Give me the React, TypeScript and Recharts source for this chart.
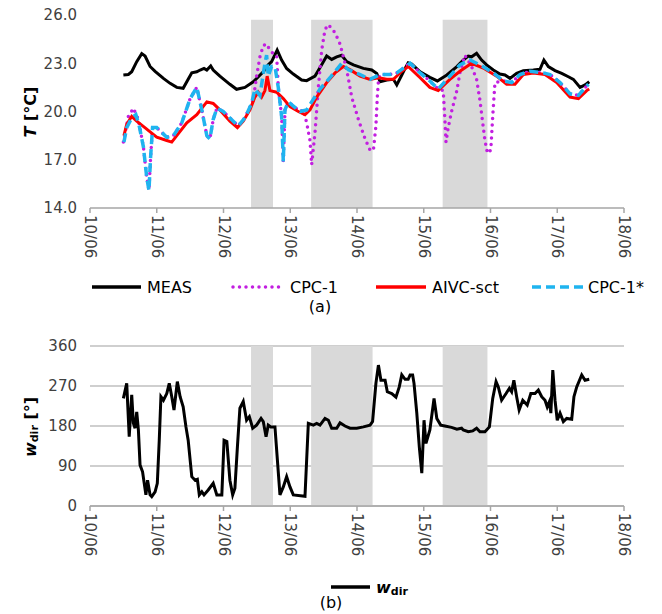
import { LineChart, Line, XAxis, YAxis, CartesianGrid, ReferenceArea } from "recharts";

const FONT = "'DejaVu Sans', sans-serif";
const AXIS_GREY = "#a6a6a6";
const GRID_GREY = "#bfbfbf";
const SHADE = "#d9d9d9";
const TEXT = "#404040";

// x axis: hours since 10/06 00:00
const dayTicks = [0, 24, 48, 72, 96, 120, 144, 168, 192];
const dayLabels = ["10/06", "11/06", "12/06", "13/06", "14/06", "15/06", "16/06", "17/06", "18/06"];

// shaded periods (hours)
const shadeStart = [57.9, 79.5, 126.8];
const shadeEnd = [65.8, 101.6, 142.9];

const tempTicks = [14, 17, 20, 23, 26];
const dirTicks = [0, 90, 180, 270, 360];

// MEAS
const measHours = [12.0, 13.8, 15.0, 16.8, 18.6, 19.8, 21.6, 23.4, 26.4, 28.8, 31.2, 33.5, 35.3, 36.6, 38.4, 39.6, 41.0, 42.0, 43.4, 44.3, 46.7, 50.3, 52.7, 55.7, 58.7, 62.3, 64.1, 65.3, 67.3, 68.9, 70.7, 73.1, 76.1, 77.9, 80.9, 83.3, 85.1, 86.9, 88.7, 90.5, 92.3, 94.7, 98.3, 101.3, 103.1, 104.3, 106.7, 109.1, 110.3, 112.1, 113.3, 114.4, 115.7, 118.7, 122.2, 124.9, 128.3, 131.9, 134.2, 136.0, 137.2, 139.0, 140.8, 142.6, 145.0, 147.4, 149.2, 151.0, 153.4, 155.8, 159.4, 161.8, 163.2, 164.8, 167.2, 169.6, 172.0, 173.8, 176.2, 178.0, 179.5];
const measTemp = [22.27, 22.3, 22.47, 23.1, 23.6, 23.45, 22.8, 22.5, 22.06, 21.75, 21.5, 21.44, 22.0, 22.41, 22.47, 22.58, 22.68, 22.58, 22.83, 22.58, 22.2, 21.69, 21.38, 21.5, 21.85, 22.47, 22.9, 23.1, 23.82, 23.2, 22.68, 22.33, 21.96, 21.92, 22.2, 22.9, 23.45, 23.24, 23.4, 23.5, 23.1, 22.9, 22.68, 22.58, 22.37, 21.85, 21.96, 22.0, 21.65, 22.27, 22.68, 23.03, 22.95, 22.47, 22.12, 21.9, 22.27, 22.79, 23.2, 23.45, 23.4, 23.62, 23.2, 22.9, 22.58, 22.33, 22.27, 22.06, 22.37, 22.54, 22.58, 22.62, 23.2, 22.79, 22.54, 22.37, 22.16, 22.0, 21.5, 21.65, 21.85];

// CPC-1
const cpc1Hours = [12.0, 13.8, 15.6, 17.4, 19.2, 20.4, 21.2, 21.8, 22.5, 24.0, 27.6, 30.0, 33.0, 36.0, 38.4, 40.2, 42.0, 43.1, 44.3, 45.6, 47.9, 51.5, 53.3, 55.7, 58.1, 58.7, 59.9, 61.1, 62.3, 63.5, 64.7, 65.9, 67.1, 67.7, 68.9, 69.5, 70.1, 71.3, 75.5, 76.7, 77.9, 79.1, 79.7, 80.9, 82.1, 83.3, 84.5, 85.7, 88.1, 89.9, 92.3, 94.1, 96.5, 98.9, 100.7, 101.9, 102.8, 103.3, 103.7, 104.3, 107.9, 110.3, 112.7, 115.1, 118.7, 122.2, 125.2, 127.0, 127.6, 128.0, 128.8, 130.0, 131.9, 133.0, 134.8, 137.2, 139.0, 140.2, 141.2, 142.0, 142.9, 144.1, 144.8, 145.6, 148.6, 151.6, 154.6, 158.2, 163.0, 165.4, 169.0, 172.6, 175.6, 179.2];
const cpc1Temp = [18.1, 19.7, 20.2, 19.5, 17.8, 15.9, 15.1, 17.2, 19.0, 19.0, 18.4, 18.5, 19.3, 20.8, 21.5, 20.1, 18.5, 18.3, 19.5, 20.2, 20.0, 19.4, 19.1, 19.6, 20.5, 20.7, 22.2, 23.4, 24.1, 24.2, 23.8, 23.6, 23.5, 21.5, 19.7, 16.9, 20.1, 20.6, 20.0, 20.1, 19.3, 18.2, 16.7, 18.7, 21.5, 23.8, 25.1, 25.4, 24.9, 24.2, 22.6, 20.9, 19.5, 18.3, 17.6, 17.6, 19.1, 20.9, 21.9, 22.3, 22.3, 22.4, 22.7, 23.0, 22.4, 21.9, 21.4, 21.3, 19.5, 18.1, 19.0, 20.0, 21.3, 22.4, 23.5, 22.8, 22.0, 20.7, 19.3, 18.2, 17.4, 17.6, 19.7, 21.8, 21.9, 21.8, 22.3, 22.5, 22.4, 22.3, 21.8, 21.1, 21.0, 21.7];

// AIVC-sct
const aivcHours = [12.2, 13.2, 15.0, 16.8, 20.4, 24.0, 27.6, 29.4, 31.2, 34.8, 38.4, 42.0, 44.3, 46.7, 50.3, 53.0, 55.1, 57.5, 59.3, 60.5, 61.7, 62.9, 63.7, 64.7, 67.1, 69.5, 71.9, 74.9, 77.3, 79.1, 81.5, 85.1, 88.1, 91.1, 93.5, 97.1, 100.7, 103.7, 106.7, 109.1, 112.1, 114.4, 118.7, 122.2, 125.2, 129.4, 133.0, 137.2, 141.4, 146.2, 149.8, 152.8, 155.8, 159.4, 163.6, 167.8, 172.6, 175.6, 178.6, 179.5];
const aivcTemp = [18.5, 19.2, 19.7, 19.4, 18.9, 18.4, 18.2, 18.1, 18.5, 19.3, 19.8, 20.6, 20.5, 20.1, 19.4, 19.0, 19.4, 20.1, 20.9, 21.2, 20.9, 21.3, 22.2, 21.3, 21.2, 20.8, 20.3, 20.0, 19.8, 20.1, 20.9, 21.8, 22.4, 22.8, 22.6, 22.2, 22.0, 22.1, 22.0, 22.0, 22.5, 22.8, 22.1, 21.5, 21.3, 22.0, 22.5, 23.0, 22.7, 22.2, 21.7, 21.7, 22.3, 22.4, 22.3, 21.8, 20.9, 20.8, 21.3, 21.4];

// CPC-1*
const cpcStarHours = [12.2, 13.2, 15.0, 16.5, 17.7, 19.2, 20.4, 21.2, 21.8, 22.5, 24.0, 27.6, 30.0, 33.0, 36.0, 38.4, 40.2, 42.0, 43.1, 44.3, 45.6, 47.9, 51.5, 53.3, 55.7, 58.1, 59.3, 61.1, 62.9, 63.5, 64.1, 65.3, 66.5, 67.7, 68.9, 69.5, 70.1, 71.3, 75.5, 77.9, 79.7, 82.7, 86.3, 90.5, 92.9, 97.1, 100.7, 104.3, 107.9, 110.3, 112.7, 115.1, 118.7, 122.2, 125.2, 129.4, 133.0, 136.6, 140.2, 145.0, 148.6, 151.6, 154.6, 158.2, 163.0, 165.4, 169.0, 172.6, 175.6, 179.2];
const cpcStarTemp = [18.1, 19.0, 19.6, 19.8, 19.1, 17.8, 15.9, 15.1, 17.2, 19.0, 19.0, 18.4, 18.5, 19.3, 20.8, 21.5, 20.1, 18.5, 18.3, 19.5, 20.2, 20.0, 19.4, 19.1, 19.6, 20.5, 21.4, 21.0, 23.0, 23.5, 22.2, 22.8, 22.8, 21.5, 19.7, 16.9, 20.1, 20.6, 20.0, 20.1, 20.6, 21.4, 22.1, 23.0, 22.6, 22.3, 22.0, 22.3, 22.3, 22.4, 22.7, 23.0, 22.4, 21.9, 21.4, 22.2, 22.9, 23.2, 22.9, 22.4, 21.9, 21.8, 22.3, 22.5, 22.4, 22.3, 21.8, 21.1, 21.0, 21.7];

// wind direction
const windHours = [12.0, 13.2, 14.1, 15.0, 15.6, 16.2, 16.8, 17.4, 18.0, 18.9, 20.1, 20.7, 21.6, 22.2, 23.4, 24.2, 24.9, 25.5, 26.4, 27.6, 28.5, 29.4, 30.2, 31.4, 32.4, 33.5, 34.5, 35.3, 36.6, 37.8, 38.6, 39.3, 40.2, 41.0, 42.5, 44.3, 45.6, 47.4, 48.2, 49.2, 50.3, 51.3, 52.1, 53.0, 53.9, 55.1, 56.3, 57.3, 58.5, 59.9, 61.5, 62.3, 63.3, 64.1, 65.0, 66.5, 68.3, 69.5, 70.7, 71.9, 73.1, 77.3, 78.5, 80.3, 81.5, 82.7, 84.5, 85.7, 86.9, 88.7, 89.9, 91.7, 93.5, 95.9, 98.3, 100.7, 101.6, 102.8, 103.7, 104.6, 106.1, 106.9, 108.5, 110.0, 111.2, 112.1, 113.3, 114.4, 115.1, 116.0, 116.5, 117.5, 118.4, 119.3, 120.1, 120.8, 122.2, 123.7, 124.7, 126.1, 127.6, 130.0, 131.9, 133.6, 134.2, 136.0, 137.6, 139.0, 140.2, 142.0, 143.6, 144.8, 146.0, 146.8, 148.0, 149.6, 150.8, 151.6, 152.4, 153.4, 154.3, 155.6, 157.2, 158.5, 160.0, 161.2, 162.4, 163.6, 164.4, 165.2, 165.7, 166.4, 167.2, 168.0, 169.0, 170.2, 171.4, 173.2, 174.0, 175.0, 176.8, 178.0, 179.5];
const windDir = [242, 276, 156, 250, 186, 175, 212, 171, 92, 77, 25, 58, 25, 21, 32, 51, 148, 246, 238, 253, 276, 246, 216, 280, 246, 223, 178, 148, 66, 58, 60, 25, 32, 25, 36, 51, 25, 25, 148, 145, 58, 25, 40, 133, 220, 235, 193, 201, 175, 182, 197, 190, 156, 182, 178, 178, 25, 43, 66, 43, 25, 22, 186, 182, 186, 182, 197, 193, 175, 175, 187, 180, 175, 175, 178, 182, 190, 276, 317, 283, 283, 257, 253, 245, 268, 295, 285, 285, 295, 295, 276, 209, 133, 74, 193, 141, 171, 242, 197, 182, 180, 177, 173, 175, 171, 167, 169, 175, 167, 167, 178, 242, 280, 268, 238, 253, 265, 257, 283, 246, 216, 238, 227, 253, 253, 261, 246, 238, 223, 235, 209, 306, 238, 193, 209, 190, 197, 195, 246, 268, 295, 283, 285];

const toRows = (hours: number[], vals: number[]) =>
  hours.map((t, i) => ({ t, v: vals[i] })).filter((r) => r.v !== undefined);

const measData = toRows(measHours, measTemp);
const cpc1Data = toRows(cpc1Hours, cpc1Temp);
const aivcData = toRows(aivcHours, aivcTemp);
const cpcStarData = toRows(cpcStarHours, cpcStarTemp);
const windData = toRows(windHours, windDir);

const dayLabel = (v: number) => dayLabels[dayTicks.indexOf(v)] ?? "";

const DateTick = (props: any) => {
  const { x, y, payload } = props;
  return (
    <text
      x={x}
      y={y}
      transform={`rotate(90, ${x}, ${y})`}
      textAnchor="start"
      dominantBaseline="central"
      fontSize={15}
      fontFamily={FONT}
      fill={TEXT}
    >
      {dayLabel(payload.value)}
    </text>
  );
};

const yTick = { fontSize: 15, fontFamily: FONT, fill: TEXT };

export default function App() {
  return (
    <div style={{ position: "absolute", left: 0, top: 0, width: 662, height: 614, background: "#fff", fontFamily: FONT }}>
      {/* (a) temperature */}
      <div style={{ position: "absolute", left: 0, top: 0 }}>
        <LineChart width={662} height={268} margin={{ top: 15, right: 38, bottom: 0, left: 45 }}>
          {shadeStart.map((s, i) => (
            <ReferenceArea key={i} x1={s} x2={shadeEnd[i]} y1={14} y2={25.7} fill={SHADE} fillOpacity={1} stroke="none" />
          ))}
          <XAxis
            dataKey="t"
            type="number"
            domain={[0, 192]}
            ticks={dayTicks}
            interval={0}
            height={60}
            tick={<DateTick />}
            tickSize={5}
            tickMargin={2}
            axisLine={{ stroke: AXIS_GREY, strokeWidth: 1.5 }}
            tickLine={{ stroke: AXIS_GREY, strokeWidth: 1.5 }}
          />
          <YAxis
            type="number"
            domain={[14, 26]}
            ticks={tempTicks}
            interval={0}
            width={45}
            axisLine={false}
            tickLine={false}
            tickMargin={7}
            tick={yTick}
            tickFormatter={(v: number) => v.toFixed(1)}
          />
          <Line data={measData} dataKey="v" type="linear" stroke="#000000" strokeWidth={3} dot={false} isAnimationActive={false} />
          <Line data={cpc1Data} dataKey="v" type="linear" stroke="#c21fe0" strokeWidth={3.5} strokeDasharray="0 6.5" strokeLinecap="round" dot={false} isAnimationActive={false} />
          <Line data={aivcData} dataKey="v" type="linear" stroke="#ff0000" strokeWidth={3} dot={false} isAnimationActive={false} />
          <Line data={cpcStarData} dataKey="v" type="linear" stroke="#1fb4ef" strokeWidth={3.5} strokeDasharray="9 5" dot={false} isAnimationActive={false} />
        </LineChart>
      </div>

      <svg width={60} height={230} style={{ position: "absolute", left: 0, top: 0 }}>
        <text x={30} y={112} transform="rotate(-90, 30, 112)" textAnchor="middle" dominantBaseline="central" fontSize={16} fontWeight="bold" fill="#000">
          <tspan fontStyle="italic">T</tspan>
          <tspan> [°C]</tspan>
        </text>
      </svg>

      {/* legend (a) */}
      <svg width={662} height={40} style={{ position: "absolute", left: 0, top: 267 }}>
        <line x1={92} x2={141} y1={20} y2={20} stroke="#000" strokeWidth={3.5} />
        <text x={147} y={20} dominantBaseline="central" fontSize={16} fill="#000">MEAS</text>
        <line x1={233} x2={282} y1={20} y2={20} stroke="#c21fe0" strokeWidth={3.5} strokeDasharray="0 6.5" strokeLinecap="round" />
        <text x={290} y={20} dominantBaseline="central" fontSize={16} fill="#000">CPC-1</text>
        <line x1={376} x2={426} y1={20} y2={20} stroke="#ff0000" strokeWidth={3.5} />
        <text x={432} y={20} dominantBaseline="central" fontSize={16} fill="#000">AIVC-sct</text>
        <line x1={532} x2={583} y1={20} y2={20} stroke="#1fb4ef" strokeWidth={3.5} strokeDasharray="9 5" />
        <text x={588} y={20} dominantBaseline="central" fontSize={16} fill="#000">CPC-1*</text>
      </svg>
      <div style={{ position: "absolute", left: 320, top: 297, transform: "translateX(-50%)", fontSize: 16, color: "#000" }}>(a)</div>

      {/* (b) wind direction */}
      <div style={{ position: "absolute", left: 0, top: 331 }}>
        <LineChart width={662} height={235} margin={{ top: 15, right: 38, bottom: 0, left: 45 }}>
          <CartesianGrid horizontal={true} vertical={false} stroke={GRID_GREY} strokeWidth={1.5} />
          {shadeStart.map((s, i) => (
            <ReferenceArea key={i} x1={s} x2={shadeEnd[i]} y1={0} y2={360} fill={SHADE} fillOpacity={1} stroke="none" />
          ))}
          <XAxis
            dataKey="t"
            type="number"
            domain={[0, 192]}
            ticks={dayTicks}
            interval={0}
            height={60}
            tick={<DateTick />}
            tickSize={5}
            tickMargin={2}
            axisLine={{ stroke: AXIS_GREY, strokeWidth: 1.5 }}
            tickLine={{ stroke: AXIS_GREY, strokeWidth: 1.5 }}
          />
          <YAxis
            type="number"
            domain={[0, 360]}
            ticks={dirTicks}
            interval={0}
            width={45}
            axisLine={false}
            tickLine={false}
            tickMargin={7}
            tick={yTick}
          />
          <Line data={windData} dataKey="v" type="linear" stroke="#000000" strokeWidth={3} dot={false} isAnimationActive={false} />
        </LineChart>
      </div>

      <svg width={60} height={200} style={{ position: "absolute", left: 0, top: 330 }}>
        <text x={30} y={97} transform="rotate(-90, 30, 97)" textAnchor="middle" dominantBaseline="central" fontSize={16} fontWeight="bold" fill="#000">
          <tspan fontStyle="italic">w</tspan>
          <tspan fontSize={11} dy={4}>dir</tspan>
          <tspan dy={-4}> [°]</tspan>
        </text>
      </svg>

      {/* legend (b) */}
      <svg width={662} height={30} style={{ position: "absolute", left: 0, top: 572 }}>
        <line x1={331} x2={370} y1={15} y2={15} stroke="#000" strokeWidth={3.5} />
        <text x={376} y={15} dominantBaseline="central" fontSize={16} fontWeight="bold" fill="#000">
          <tspan fontStyle="italic">w</tspan>
          <tspan fontSize={11} dy={4}>dir</tspan>
        </text>
      </svg>
      <div style={{ position: "absolute", left: 331, top: 593, transform: "translateX(-50%)", fontSize: 16, color: "#000" }}>(b)</div>
    </div>
  );
}
